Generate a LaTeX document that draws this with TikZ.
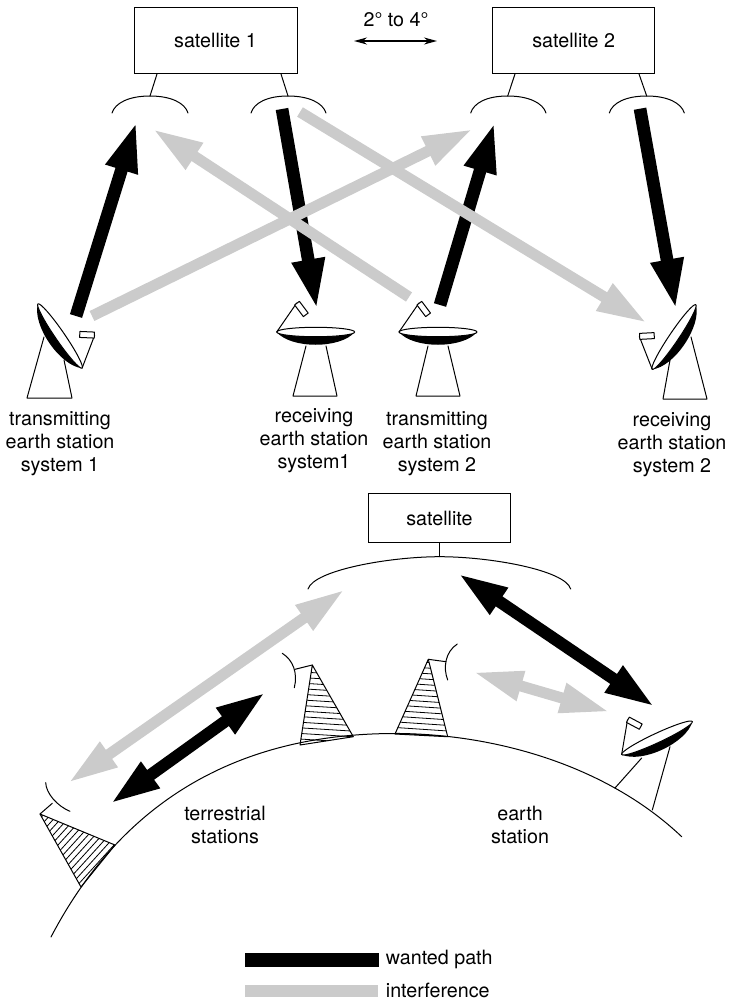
\documentclass[tikz,border=0pt]{standalone}
\usepackage{fontspec}
\setmainfont{TeX Gyre Heros}
\usetikzlibrary{arrows.meta}
\definecolor{igrey}{HTML}{CBCBCB}
\tikzset{
  x=1pt,y=-1pt,
  every node/.style={font=\fontsize{19.7}{23}\selectfont},
  thinln/.style={line width=1pt,line cap=round,line join=round},
  satbox/.style={draw,line width=1pt,fill=white,minimum height=0pt,inner sep=0pt},
  label/.style={align=center,inner sep=0pt},
  wanted/.style={line width=12.7pt,black,-{Triangle[length=51pt,width=30pt]}},
  interf/.style={line width=11pt,igrey,-{Triangle[length=50pt,width=29pt]}},
  wantedd/.style={line width=12pt,black,{Triangle[length=50pt,width=29pt]}-{Triangle[length=50pt,width=29pt]}},
  interfd/.style={line width=11pt,igrey,{Triangle[length=50pt,width=28pt]}-{Triangle[length=50pt,width=28pt]}}
}
\newcommand{\dishant}[1]{%
  \begin{scope}[#1]
    \fill (-39,0) .. controls (-25,17) and (25,17) .. (39,0) -- cycle;
    \draw[thinln,fill=white] (0,0) ellipse [x radius=39, y radius=4.7];
    \draw[thinln] (-39,0) -- (-19,-29);
    \begin{scope}[shift={(-14.3,-23)},rotate=-53]
      \draw[thinln,fill=white] (-7.3,-3) rectangle (7.3,3);
    \end{scope}
  \end{scope}}
\begin{document}
\begin{tikzpicture}
\useasboundingbox (0,0) rectangle (730,1000);
% satellites
\node[satbox,minimum width=163pt,minimum height=66.7pt] (sat1) at (215.5,40.6) {satellite 1};
\node[satbox,minimum width=162.5pt,minimum height=66.7pt] (sat2) at (573.7,40.6) {satellite 2};
\node[label] (sep) at (396,20) {2\textdegree{} to 4\textdegree};
\coordinate (sepa) at (354,41);
\coordinate (sepb) at (437,41);
\draw[line width=1.4pt,{Stealth[length=13pt,width=7pt]}-{Stealth[length=13pt,width=7pt]}] (sepa) -- (sepb);
% antennas on the satellites
\foreach \sx/\tx/\px/\ax/\bx/\nm in {157/150/150/112/188/a,281/288/288/251/326/b,515/507.7/507.7/470.7/546/c,639/646.7/646.7/609.3/684.3/d}{
  \coordinate (st\nm) at (\sx,74);
  \coordinate (pk\nm) at (\tx,96);
  \draw[thinln] (st\nm) -- (pk\nm);
  \draw[thinln] (\ax,113) .. controls ({\ax+3},103) and ({\px-21},96) .. (pk\nm) .. controls ({\px+21},96) and ({\bx-3},103) .. (\bx,113);
}
% ground stations, upper part
\draw[thinln] (44,337) -- (27,398) -- (72,398) -- (64,360);
\draw[thinln] (306,346) -- (293,396) -- (337,396) -- (326,346);
\draw[thinln] (428,346) -- (416,396) -- (460,396) -- (448,346);
\draw[thinln] (691,337) -- (707,399) -- (663,399) -- (670,360);
\dishant{shift={(60,336)},rotate=-55.5,xscale=-1}
\dishant{shift={(315.7,332)}}
\dishant{shift={(438,332)}}
\dishant{shift={(674,337)},rotate=56}
% paths, upper part
\coordinate (g1s) at (92,316);   \coordinate (g1e) at (473,129);
\coordinate (g2s) at (409,297);  \coordinate (g2e) at (152.7,129);
\coordinate (g3s) at (300,112);  \coordinate (g3e) at (647,323);
\coordinate (a1s) at (76,316);   \coordinate (a1e) at (136.7,121);
\coordinate (a2s) at (282,109);  \coordinate (a2e) at (317,310);
\coordinate (a3s) at (440,305);  \coordinate (a3e) at (494.7,121.7);
\coordinate (a4s) at (640,108.7);\coordinate (a4e) at (676,310);
\draw[wanted] (a1s) -- (a1e);
\draw[wanted] (a2s) -- (a2e);
\draw[wanted] (a3s) -- (a3e);
\draw[wanted] (a4s) -- (a4e);
\draw[interf] (g1s) -- (g1e);
\draw[interf] (g2s) -- (g2e);
\draw[interf] (g3s) -- (g3e);
% labels, upper part
\node[label] (l1) at (60,443.5) {transmitting\\earth station\\system 1};
\node[label] (l2) at (314,441) {receiving\\earth station\\system1};
\node[label] (l3) at (437,443.5) {transmitting\\earth station\\system 2};
\node[label] (l4) at (672,444.5) {receiving\\earth station\\system 2};
% lower satellite
\node[satbox,minimum width=141.3pt,minimum height=49.4pt] (sat) at (439.4,518) {satellite};
\coordinate (satpk) at (439.7,556.7);
\draw[thinln] (sat.south -| satpk) -- (satpk);
\draw[thinln] (308,589) .. controls (314,570) and (390,556.7) .. (satpk) .. controls (490,556.7) and (565,570) .. (570.7,589);
% earth
\draw[thinln] (51,937) .. controls (133,780) and (265,733.5) .. (395,733.5) .. controls (490,733.5) and (604,763) .. (681.7,836.7);
% terrestrial stations
\begin{scope}
  \clip (40,814) -- (115,845) -- (81,887) -- cycle;
  \foreach \c in {-90,-83,...,130}{\draw[line width=.8pt] (\c,900) -- ({\c+100},790);}
\end{scope}
\draw[thinln] (40,814) -- (115,845) -- (81,887) -- cycle;
\draw[thinln] (40,814) -- (52.3,803.3);
\draw[thinln] (45.7,782.7) .. controls (46,793) and (57,806) .. (70,811.3);
\begin{scope}
  \clip (312.3,665) -- (353.3,736.7) -- (300,745) -- cycle;
  \foreach \y in {660,665.6,...,750}{\draw[line width=.8pt] (290,\y) -- (370,{\y+5});}
\end{scope}
\draw[thinln] (312.3,665) -- (353.3,736.7) -- (300,745) -- cycle;
\draw[thinln] (312.3,665) -- (295,669.3);
\draw[thinln] (282.3,653.3) .. controls (293,660) and (298,673) .. (294.3,687.7);
\begin{scope}
  \clip (428.3,659.3) -- (447.7,736.7) -- (395,734) -- cycle;
  \foreach \y in {654,659.6,...,740}{\draw[line width=.8pt] (385,\y) -- (460,{\y+5});}
\end{scope}
\draw[thinln] (428.3,659.3) -- (447.7,736.7) -- (395,734) -- cycle;
\draw[thinln] (428.3,659.3) -- (446,661.7);
\draw[thinln] (457.3,644) .. controls (445,652) and (443,668) .. (447.7,680);
% earth station, lower part
\draw[thinln] (641.7,758) -- (615,788);
\draw[thinln] (670,746.7) -- (652.3,810);
\dishant{shift={(657,738)},rotate=25}
% paths, lower part
\coordinate (w1a) at (110,804);  \coordinate (w1b) at (266,692);
\coordinate (w2a) at (457.7,573.3); \coordinate (w2b) at (655,707);
\coordinate (i1a) at (68,783);   \coordinate (i1b) at (345,589.3);
\coordinate (i2a) at (473,672);  \coordinate (i2b) at (610,712);
\draw[wantedd] (w1a) -- (w1b);
\draw[wantedd] (w2a) -- (w2b);
\draw[interfd] (i1a) -- (i1b);
\draw[interfd] (i2a) -- (i2b);
\node[label] (t1) at (225,825) {terrestrial\\stations};
\node[label] (t2) at (520,825) {earth\\station};
% legend
\fill[black] (245,953.3) rectangle (379,966.7);
\fill[igrey] (245,985) rectangle (378,996.7);
\node[label,anchor=west] (lg1) at (385.7,959.5) {wanted path};
\node[label,anchor=west] (lg2) at (385.7,990.5) {interference};
\end{tikzpicture}
\end{document}
